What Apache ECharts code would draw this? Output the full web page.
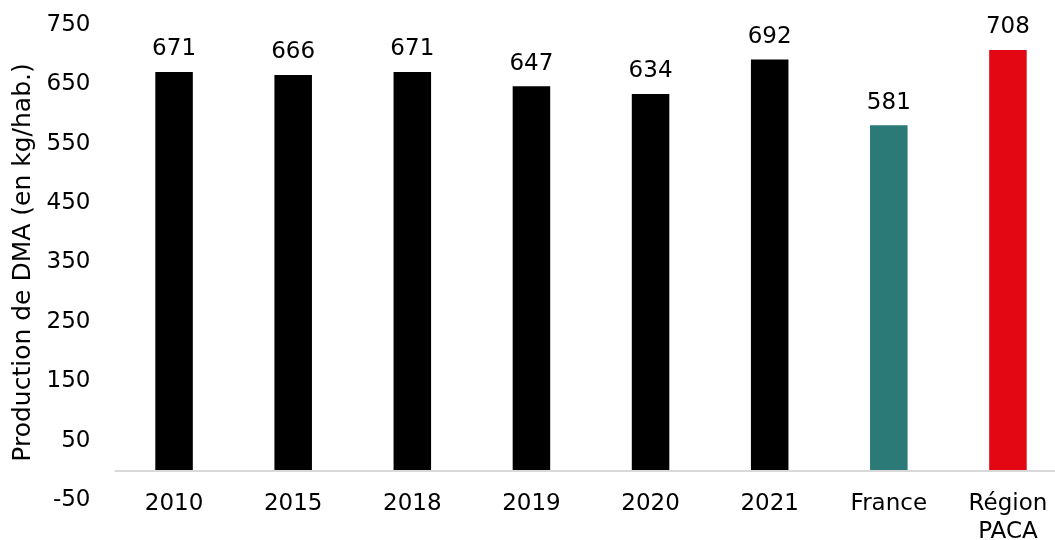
<!DOCTYPE html>
<html>
<head>
<meta charset="utf-8">
<script src="https://cdn.jsdelivr.net/npm/echarts@6/dist/echarts.min.js"></script>
<style>
html,body{margin:0;padding:0;background:#fff;overflow:hidden;}
#chart{width:1055px;height:540px;}
</style>
</head>
<body>
<div id="chart"></div>
<script>
const categories = ['2010', '2015', '2018', '2019', '2020', '2021', 'France', 'Région\nPACA'];
const values = [671, 666, 671, 647, 634, 692, 581, 708];
const barColors = ['#000000', '#000000', '#000000', '#000000', '#000000', '#000000', '#2B7A78', '#E30613'];
const yTicks = { min: -50, max: 750, interval: 100 };
const yAxisTitle = 'Production de DMA (en kg/hab.)';

const FONT = 'DejaVu Sans';
const chart = echarts.init(document.getElementById('chart'));
chart.setOption({
  animation: false,
  grid: { left: 114.5, width: 953, top: 25, bottom: 40, containLabel: false, outerBoundsMode: 'none' },
  xAxis: {
    type: 'category',
    data: categories,
    axisLine: { show: false, onZero: false },
    axisTick: { show: false },
    axisLabel: {
      color: '#000', fontFamily: FONT, fontSize: 23, lineHeight: 28,
      verticalAlign: 'top', margin: -10, interval: 0
    }
  },
  yAxis: {
    type: 'value',
    min: yTicks.min, max: yTicks.max, interval: yTicks.interval,
    name: yAxisTitle,
    nameLocation: 'middle',
    nameGap: 74,
    nameTextStyle: { color: '#000', fontFamily: FONT, fontSize: 25, padding: [0, 0, 0, 0], align: 'center' },
    axisLine: { show: false },
    axisTick: { show: false },
    splitLine: { show: false },
    axisLabel: { color: '#000', fontFamily: FONT, fontSize: 23, margin: 24, padding: [6, 0, 0, 0] }
  },
  series: [{
    type: 'bar',
    data: values.map((v, i) => ({ value: v, itemStyle: { color: barColors[i] } })),
    barWidth: '31.5%',
    label: {
      show: true, position: 'top', distance: 11,
      color: '#000', fontFamily: FONT, fontSize: 23
    },
    markLine: {
      silent: true, symbol: 'none', label: { show: false },
      lineStyle: { color: '#D9D9D9', width: 2, type: 'solid' },
      data: [{ yAxis: 0 }]
    }
  }]
});
</script>
</body>
</html>
